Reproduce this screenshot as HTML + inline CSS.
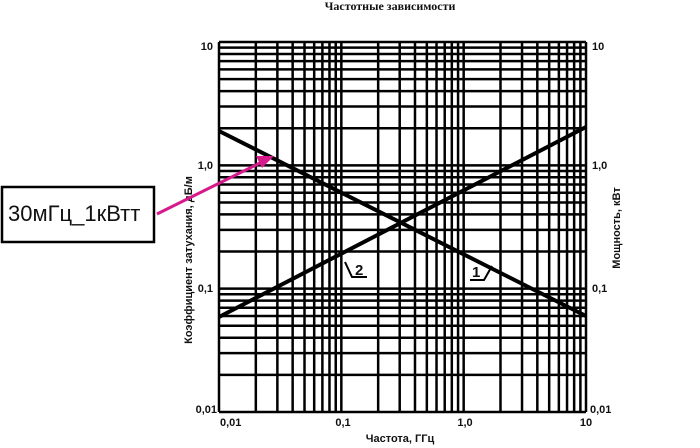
<!DOCTYPE html>
<html><head><meta charset="utf-8"><style>
html,body{margin:0;padding:0;background:#fff;width:700px;height:448px;overflow:hidden}
text{font-family:"Liberation Sans",sans-serif;font-weight:bold;fill:#111}
</style></head><body>
<svg id="s" width="700" height="448" viewBox="0 0 700 448" xmlns="http://www.w3.org/2000/svg">
<g id="grid" stroke="#000" stroke-width="2.5"></g>
<line x1="219" y1="131" x2="586" y2="316" stroke="#000" stroke-width="4"/>
<line x1="219" y1="317" x2="586" y2="127" stroke="#000" stroke-width="4"/>
<polyline points="345,262 352,277 367,277" fill="none" stroke="#000" stroke-width="2"/>
<text x="355" y="275" font-size="15">2</text>
<polyline points="470,280 484,280 492,266" fill="none" stroke="#000" stroke-width="2"/>
<text x="472" y="277" font-size="15">1</text>
<text x="390" y="10" font-size="12" text-anchor="middle" font-family="Liberation Serif" style="font-family:'Liberation Serif',serif">Частотные зависимости</text>
<text x="213" y="50" font-size="11" text-anchor="end">10</text>
<text x="213" y="169" font-size="11" text-anchor="end">1,0</text>
<text x="213" y="292" font-size="11" text-anchor="end">0,1</text>
<text x="217" y="413" font-size="11" text-anchor="end">0,01</text>
<text x="592" y="50" font-size="11">10</text>
<text x="592" y="169" font-size="11">1,0</text>
<text x="592" y="292" font-size="11">0,1</text>
<text x="590" y="413" font-size="11">0,01</text>
<text x="220" y="426" font-size="11">0,01</text>
<text x="343" y="426" font-size="11" text-anchor="middle">0,1</text>
<text x="465" y="426" font-size="11" text-anchor="middle">1,0</text>
<text x="586" y="426" font-size="11" text-anchor="middle">10</text>
<text x="400" y="442" font-size="11" text-anchor="middle">Частота, ГГц</text>
<text transform="translate(192,260) rotate(-90)" font-size="11" text-anchor="middle">Коэффициент затухания, дБ/м</text>
<text transform="translate(620,228) rotate(-90)" font-size="11" text-anchor="middle">Мощность, кВт</text>
<rect x="2" y="187" width="152" height="55" fill="#fff" stroke="#000" stroke-width="2.5"/>
<text x="8" y="221" font-size="22" style="font-weight:normal">30мГц_1кВтт</text>
<line x1="157" y1="214" x2="262" y2="162" stroke="#d61a8c" stroke-width="3"/>
<polygon points="274,156 256,156 262,168" fill="#d61a8c"/>
</svg>
<script>
var g=document.getElementById('grid'),L=219,R=586,T=42,B=412,ns="http://www.w3.org/2000/svg";
function ln(a,b,c,d){var e=document.createElementNS(ns,'line');e.setAttribute('x1',a);e.setAttribute('y1',b);e.setAttribute('x2',c);e.setAttribute('y2',d);g.appendChild(e);}
var dx=(R-L)/3,dy=(B-T)/3;
for(var d=0;d<3;d++)for(var k=1;k<10;k++){var f=Math.log10(k);
ln(L+(d+f)*dx,T,L+(d+f)*dx,B);ln(L,B-(d+f)*dy,R,B-(d+f)*dy);}
ln(R,T,R,B);ln(L,T,R,T);
</script>
</body></html>
